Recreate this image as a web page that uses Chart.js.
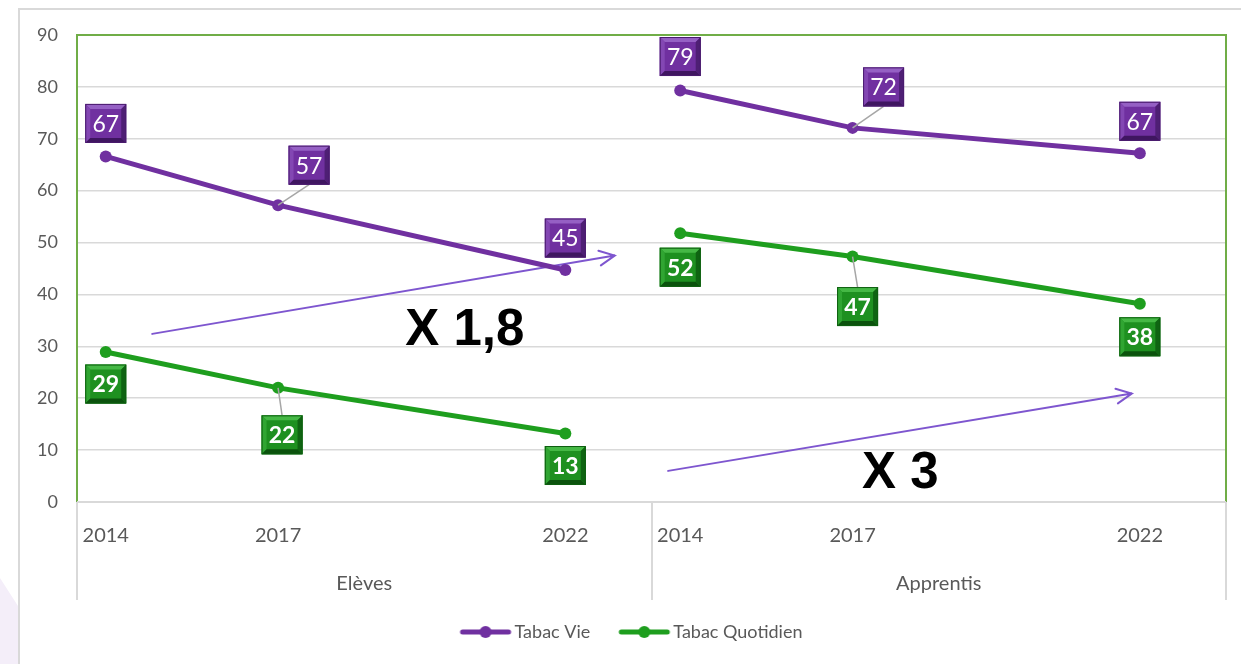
<!DOCTYPE html>
<html>
<head>
<meta charset="utf-8">
<script src="https://cdn.jsdelivr.net/npm/chart.js@4/dist/chart.umd.min.js"></script>
<style>
    html, body { margin: 0; padding: 0; background: #fff; }
    #wrap { width: 1241px; height: 664px; position: relative; }
</style>
</head>
<body>
<div id="wrap"><canvas id="tabacChart"></canvas></div>
<script>
// data
const groups = ['Elèves', 'Apprentis'];
const years = [2014, 2017, 2022];
const tabacVie = [66.6, 57.2, 44.7, 79.3, 72.1, 67.2];
const tabacQuotidien = [28.9, 22.0, 13.2, 51.8, 47.3, 38.2];
const ratioLabels = ['X 1,8', 'X 3'];

// each group covers 10 years on the x scale, starting half a year before 2014
const groupSpan = 10;
const yearOrigin = 2013.5;

// where the value boxes sit relative to their point (px)
const vieLabelOffsets = [[0, -33], [31, -40], [0, -32], [0, -34], [31, -41], [0, -32]];
const quotLabelOffsets = [[0, 32], [4, 47], [0, 32], [0, 34], [5, 50], [0, 33]];

// arrows and ratio texts, in chart coordinates
const arrows = [
    { from: [1.31, 32.4], to: [9.36, 47.5] },
    { from: [10.29, 6.0], to: [18.36, 20.9] },
];
const ratioSpots = [[6.75, 30.3], [14.33, 2.7]];

const purple = '#7030A0';
const green = '#1E9E1E';
const grey = '#595959';
const gridGrey = '#D9D9D9';

const xOf = (gi, yr) => gi * groupSpan + (yr - yearOrigin);

const buildPoints = (vals) => {
    let pts = [];
    groups.forEach((g, gi) => {
        years.forEach((yr, yi) => {
            pts.push({ x: xOf(gi, yr), y: vals[gi * years.length + yi], vi: gi * years.length + yi });
        });
        if (gi < groups.length - 1) {
            pts.push({ x: (gi + 1) * groupSpan, y: null });
        }
    });
    return pts;
};

const tickValues = [];
groups.forEach((g, gi) => years.forEach((yr) => tickValues.push(xOf(gi, yr))));

const yearFor = (v) => {
    let gi = Math.floor(v / groupSpan);
    return Math.round(v - gi * groupSpan + yearOrigin);
};

// legend marker: line with a dot, shifted right so it sits close to its text
const legendMarker = (color) => {
    let c = document.createElement('canvas');
    c.width = 80;
    c.height = 14;
    let ctx = c.getContext('2d');
    ctx.strokeStyle = color;
    ctx.lineWidth = 5;
    ctx.lineCap = 'round';
    ctx.beginPath();
    ctx.moveTo(28, 7);
    ctx.lineTo(74, 7);
    ctx.stroke();
    ctx.fillStyle = color;
    ctx.beginPath();
    ctx.arc(51, 7, 6, 0, Math.PI * 2);
    ctx.fill();
    return c;
};

const bevelBox = (ctx, cx, cy, w, h, cols) => {
    let x0 = cx - w / 2, y0 = cy - h / 2, b = 5;
    ctx.fillStyle = cols.base;
    ctx.fillRect(x0, y0, w, h);
    const quad = (pts, fill) => {
        ctx.fillStyle = fill;
        ctx.beginPath();
        ctx.moveTo(pts[0][0], pts[0][1]);
        for (let i = 1; i < pts.length; i++) ctx.lineTo(pts[i][0], pts[i][1]);
        ctx.closePath();
        ctx.fill();
    };
    quad([[x0, y0], [x0 + w, y0], [x0 + w - b, y0 + b], [x0 + b, y0 + b]], cols.light);
    quad([[x0, y0], [x0 + b, y0 + b], [x0 + b, y0 + h - b], [x0, y0 + h]], cols.mid);
    quad([[x0 + w, y0], [x0 + w, y0 + h], [x0 + w - b, y0 + h - b], [x0 + w - b, y0 + b]], cols.dark);
    quad([[x0, y0 + h], [x0 + b, y0 + h - b], [x0 + w - b, y0 + h - b], [x0 + w, y0 + h]], cols.darker);
    ctx.strokeStyle = cols.edge;
    ctx.lineWidth = 1;
    ctx.strokeRect(x0 + 0.5, y0 + 0.5, w - 1, h - 1);
};

const boxColours = {
    purple: { base: '#7030A0', light: '#9560C4', mid: '#8347B3', dark: '#4E1F74', darker: '#3F1660', edge: '#4A1C6E' },
    green: { base: '#1E9020', light: '#45B845', mid: '#30A532', dark: '#0F6412', darker: '#0B520D', edge: '#0E5E10' },
};

const decorPlugin = {
    id: 'decor',
    beforeDraw: (chart) => {
        let ctx = chart.ctx;
        ctx.save();
        ctx.fillStyle = '#F4EEF9';
        ctx.beginPath();
        ctx.moveTo(0, 578);
        ctx.lineTo(18, 606);
        ctx.lineTo(18, 664);
        ctx.lineTo(0, 664);
        ctx.closePath();
        ctx.fill();
        ctx.strokeStyle = gridGrey;
        ctx.lineWidth = 2;
        ctx.beginPath();
        ctx.moveTo(1241, 9);
        ctx.lineTo(19, 9);
        ctx.lineTo(19, 664);
        ctx.stroke();
        ctx.restore();
    },
    beforeDatasetsDraw: (chart) => {
        let ctx = chart.ctx;
        let a = chart.chartArea;
        let xs = chart.scales.x;
        ctx.save();
        ctx.strokeStyle = '#70AD47';
        ctx.lineWidth = 2;
        ctx.beginPath();
        ctx.moveTo(a.left, a.bottom);
        ctx.lineTo(a.left, a.top);
        ctx.lineTo(a.right, a.top);
        ctx.lineTo(a.right, a.bottom);
        ctx.stroke();
        ctx.strokeStyle = gridGrey;
        ctx.beginPath();
        ctx.moveTo(a.left, a.bottom);
        ctx.lineTo(a.right, a.bottom);
        ctx.stroke();
        // group separators and names
        ctx.lineWidth = 2;
        for (let gi = 0; gi <= groups.length; gi++) {
            let px = Math.round(xs.getPixelForValue(gi * groupSpan));
            ctx.beginPath();
            ctx.moveTo(px, a.bottom);
            ctx.lineTo(px, 600);
            ctx.stroke();
        }
        ctx.fillStyle = grey;
        ctx.font = '20px Lato';
        ctx.textAlign = 'center';
        ctx.textBaseline = 'middle';
        groups.forEach((g, gi) => {
            ctx.fillText(g, xs.getPixelForValue(gi * groupSpan + groupSpan / 2), 584);
        });
        // arrows
        let ys = chart.scales.y;
        ctx.strokeStyle = '#7E56CF';
        ctx.lineWidth = 2;
        ctx.lineCap = 'round';
        arrows.forEach((ar) => {
            let x1 = xs.getPixelForValue(ar.from[0]), y1 = ys.getPixelForValue(ar.from[1]);
            let x2 = xs.getPixelForValue(ar.to[0]), y2 = ys.getPixelForValue(ar.to[1]);
            let ang = Math.atan2(y2 - y1, x2 - x1);
            ctx.beginPath();
            ctx.moveTo(x1, y1);
            ctx.lineTo(x2, y2);
            ctx.moveTo(x2 - 17 * Math.cos(ang - 0.45), y2 - 17 * Math.sin(ang - 0.45));
            ctx.lineTo(x2, y2);
            ctx.lineTo(x2 - 17 * Math.cos(ang + 0.45), y2 - 17 * Math.sin(ang + 0.45));
            ctx.stroke();
        });
        ctx.fillStyle = '#000';
        ctx.font = 'bold 51px "Liberation Sans"';
        ctx.textBaseline = 'alphabetic';
        ratioLabels.forEach((t, i) => {
            ctx.fillText(t, xs.getPixelForValue(ratioSpots[i][0]), ys.getPixelForValue(ratioSpots[i][1]));
        });
        ctx.restore();
    },
    afterDatasetsDraw: (chart) => {
        let ctx = chart.ctx;
        ctx.save();
        chart.data.datasets.forEach((ds, di) => {
            let meta = chart.getDatasetMeta(di);
            ds.data.forEach((d, i) => {
                if (d.y === null) return;
                let pt = meta.data[i];
                let off = ds.labelOffsets[d.vi];
                let cx = pt.x + off[0], cy = pt.y + off[1];
                let w = 41, h = 39;
                if (Math.abs(off[0]) > 2) {
                    let ey = off[1] < 0 ? cy + h / 2 : cy - h / 2;
                    ctx.strokeStyle = '#A6A6A6';
                    ctx.lineWidth = 1.5;
                    ctx.beginPath();
                    ctx.moveTo(pt.x, pt.y);
                    ctx.lineTo(cx, ey);
                    ctx.stroke();
                }
                bevelBox(ctx, cx, cy, w, h, boxColours[ds.boxStyle]);
                ctx.fillStyle = '#fff';
                ctx.font = (ds.boxStyle === 'green' ? 'bold ' : '') + '23px Lato';
                ctx.textAlign = 'center';
                ctx.textBaseline = 'middle';
                ctx.fillText(Math.round(d.y), cx, cy + 1);
            });
        });
        ctx.restore();
    },
};

const ctx = document.getElementById('tabacChart').getContext('2d');

const tabacChart = new Chart(ctx, {
    type: 'line',
    data: {
        datasets: [
            {
                label: 'Tabac Vie',
                data: buildPoints(tabacVie),
                borderColor: purple,
                backgroundColor: purple,
                borderWidth: 5,
                pointRadius: 6,
                pointBorderWidth: 0,
                spanGaps: false,
                labelOffsets: vieLabelOffsets,
                boxStyle: 'purple',
            },
            {
                label: 'Tabac Quotidien',
                data: buildPoints(tabacQuotidien),
                borderColor: green,
                backgroundColor: green,
                borderWidth: 5,
                pointRadius: 6,
                pointBorderWidth: 0,
                spanGaps: false,
                labelOffsets: quotLabelOffsets,
                boxStyle: 'green',
            },
        ],
    },
    options: {
        responsive: true,
        maintainAspectRatio: false,
        animation: false,
        layout: { padding: { left: 20, right: 15, top: 35, bottom: 13 } },
        plugins: {
            tooltip: { enabled: false },
            legend: {
                position: 'bottom',
                labels: {
                    usePointStyle: true,
                    pointStyleWidth: 62,
                    padding: 12,
                    color: grey,
                    font: { family: 'Lato', size: 18 },
                    generateLabels: (chart) => {
                        let items = Chart.defaults.plugins.legend.labels.generateLabels(chart);
                        items.forEach((it, i) => {
                            it.pointStyle = legendMarker(chart.data.datasets[i].borderColor);
                        });
                        return items;
                    },
                },
            },
        },
        scales: {
            x: {
                type: 'linear',
                min: 0,
                max: groupSpan * groups.length,
                grid: { display: false },
                border: { display: false },
                afterBuildTicks: (scale) => {
                    scale.ticks = tickValues.map((v) => ({ value: v }));
                },
                afterFit: (scale) => {
                    scale.height = 109;
                },
                ticks: {
                    autoSkip: false,
                    maxRotation: 0,
                    padding: 14,
                    color: grey,
                    font: { family: 'Lato', size: 20 },
                    callback: (v) => yearFor(v),
                },
            },
            y: {
                min: 0,
                max: 90,
                grid: { color: gridGrey, lineWidth: 1.5, drawTicks: false },
                border: { display: false },
                afterFit: (scale) => {
                    scale.width = 57;
                },
                ticks: {
                    stepSize: 10,
                    padding: 19,
                    color: grey,
                    font: { family: 'Lato', size: 18 },
                },
            },
        },
    },
    plugins: [decorPlugin],
});
</script>
</body>
</html>
